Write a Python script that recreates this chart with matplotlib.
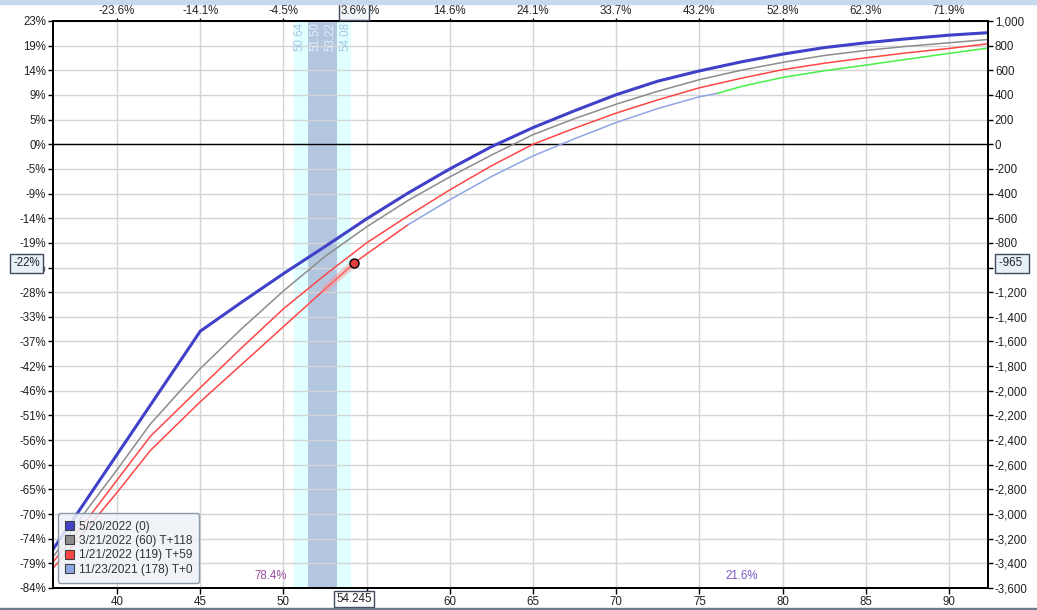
import matplotlib.pyplot as plt
from matplotlib.patches import Patch, Rectangle

plt.rcParams['font.family'] = ['Liberation Sans', 'DejaVu Sans']
plt.rcParams['font.size'] = 8.3

# underlying price grid
price = [36.15, 38, 40, 42, 45, 47.5, 50, 52.5, 55, 57.5, 60, 62.5, 65, 67.5,
         70, 72.5, 75, 77.5, 80, 82.5, 85, 87.5, 90, 92.34]
pl_0520 = [-3287, -2917, -2517, -2117, -1517, -1280, -1050, -830, -605, -395, -200, -20, 135, 272,
           402, 512, 595, 668, 731, 784, 823, 856, 885, 905]
pl_0321 = [-3350, -3000, -2640, -2270, -1820, -1495, -1190, -910, -670, -455, -265, -88, 78, 208,
           325, 430, 524, 600, 664, 720, 761, 795, 823, 850]
pl_0121 = [-3390, -3080, -2725, -2370, -1975, -1650, -1335, -1060, -800, -580, -370, -175, 0, 130,
           253, 360, 458, 535, 605, 657, 701, 742, 777, 815]

# T+0 line (today), coloured in three parts
t0_price = [36.15, 38, 40, 42, 45, 47.5, 50, 52.5, 54.245, 55, 57.5, 60, 62.5, 65, 67.5,
            70, 72.5, 75, 76.1, 77.5, 80, 82.5, 85, 87.5, 90, 92.34]
t0_pl = [-3440, -3150, -2825, -2485, -2089, -1785, -1480, -1175, -965, -890, -652, -450, -262, -95, 45,
         176, 290, 385, 413, 468, 542, 596, 642, 690, 737, 780]

legend_labels = ['5/20/2022 (0)', '3/21/2022 (60) T+118', '1/21/2022 (119) T+59', '11/23/2021 (178) T+0']
legend_colors = ['#4040c8', '#8c8c8c', '#ff4646', '#8fa6e6']

x_ticks = [40, 45, 50, 55, 60, 65, 70, 75, 80, 85, 90]
top_labels = ['-23.6%', '-14.1%', '-4.5%', '5.0%', '14.6%', '24.1%', '33.7%', '43.2%', '52.8%', '62.3%', '71.9%']
y_ticks = list(range(-3600, 1001, 200))
pct_labels = ['-84%', '-79%', '-74%', '-70%', '-65%', '-60%', '-56%', '-51%', '-46%', '-42%', '-37%', '-33%',
              '-28%', '-23%', '-19%', '-14%', '-9%', '-5%', '0%', '5%', '9%', '14%', '19%', '23%']

sd1 = (50.64, 54.08)
sd_core = (51.50, 53.22)
cursor_price = 54.245
cursor_pl = -965
prob_labels = [(49.25, '78.4%', '#9a4c9e'), (77.55, '21.6%', '#7a55c4')]

fig = plt.figure(figsize=(10.37, 6.10), dpi=100)
ax = fig.add_axes([0.0511, 0.0361, 0.9016, 0.9295])
fig.patches.append(Rectangle((0, 1 - 4 / 610), 1, 4 / 610, transform=fig.transFigure, color='#c6d9ee'))
fig.patches.append(Rectangle((0, 0), 1, 2 / 610, transform=fig.transFigure, color='#6b7a8c'))

ax.set_xlim(36.15, 92.34)
ax.set_ylim(-3600, 1000)
ax.set_axisbelow(True)
ax.grid(True, color='#d4d4d4', lw=1)

ax.axvspan(sd1[0], sd1[1], color='#e0ffff', zorder=0.2, lw=0)
ax.axvspan(sd_core[0], sd_core[1], color='#b3c6e0', zorder=0.3, lw=0)
ax.text(sd1[0] + 0.35, 990, '%.2f' % sd1[0], rotation=90, ha='center', va='top', color='#a6c6e4')
ax.text(sd_core[0] + 0.45, 990, '%.2f' % sd_core[0], rotation=90, ha='center', va='top', color='#e6edf7')
ax.text(sd_core[1] - 0.4, 990, '%.2f' % sd_core[1], rotation=90, ha='center', va='top', color='#e6edf7')
ax.text(sd1[1] - 0.35, 990, '%.2f' % sd1[1], rotation=90, ha='center', va='top', color='#a6c6e4')

ax.axhline(0, color='black', lw=1, zorder=1)

ax.plot(price, pl_0321, color=legend_colors[1], lw=1.1, zorder=3)
ax.plot(price, pl_0121, color=legend_colors[2], lw=1.1, zorder=3)
i1 = t0_price.index(57.5)
i2 = t0_price.index(76.1)
ax.plot(t0_price[:i1 + 1], t0_pl[:i1 + 1], color='#ff4646', lw=1.1, zorder=3)
ax.plot(t0_price[i1:i2 + 1], t0_pl[i1:i2 + 1], color='#8fa6e6', lw=1.1, zorder=3)
ax.plot(t0_price[i2:], t0_pl[i2:], color='#46f046', lw=1.1, zorder=3)
ic = t0_price.index(cursor_price)
ax.plot(t0_price[ic - 1:ic + 1], t0_pl[ic - 1:ic + 1], color='#ff8c8c', lw=5, alpha=0.45,
        solid_capstyle='round', zorder=3)
ax.plot(price, pl_0520, color=legend_colors[0], lw=2.2, zorder=4)
ax.plot(cursor_price, cursor_pl, 'o', ms=6.5, mfc='#e04040', mec='black', mew=1, zorder=5)

for x, s, c in prob_labels:
    ax.text(x, -3500, s, ha='center', va='center', color=c, fontsize=8.3)

for sp in ax.spines.values():
    sp.set_linewidth(1.2)
ax.set_xticks(x_ticks)
ax.set_yticks(y_ticks)
ax.set_yticklabels(pct_labels)
ax.tick_params(direction='out', length=3.5, width=1, pad=1.5, labelcolor='#222222')
ax.tick_params(axis='x', length=4, pad=2)

ax_r = ax.twinx()
ax_r.set_ylim(-3600, 1000)
ax_r.set_yticks(y_ticks)
ax_r.set_yticklabels(['{:,}'.format(v) for v in y_ticks])
ax_r.tick_params(direction='out', length=3.5, width=1, pad=1.5, labelcolor='#222222')

ax_t = ax.twiny()
ax_t.set_xlim(36.15, 92.34)
ax_t.set_xticks(x_ticks)
ax_t.set_xticklabels(top_labels)
ax_t.tick_params(direction='out', length=2, width=1, pad=1, labelcolor='#222222')
for a in (ax_r, ax_t):
    for sp in a.spines.values():
        sp.set_linewidth(1.2)

box = dict(boxstyle='square,pad=0.3', fc='#e8f0f8', ec='#404a5a', lw=1)
ax_t.text(-0.0283, cursor_pl, '-22%', transform=ax.get_yaxis_transform(), ha='center', va='center',
          bbox=box, zorder=10, color='#222222')
ax_t.text(1.0257, cursor_pl, '-965 ', transform=ax.get_yaxis_transform(), ha='center', va='center',
          bbox=box, zorder=10, color='#222222')
ax_t.text(cursor_price, -0.0194, '%.3f' % cursor_price, transform=ax.get_xaxis_transform(), ha='center',
          va='center', bbox=dict(boxstyle='square,pad=0.2', fc='white', ec='#404a5a', lw=1), zorder=10,
          color='#222222')
ax_t.text(cursor_price, 1.0168, '3.6%', transform=ax.get_xaxis_transform(), ha='center', va='center',
          bbox=dict(boxstyle='square,pad=0.2', fc='#f4f7fa', ec='#404a5a', lw=1), zorder=10,
          color='#222222')

handles = [Patch(facecolor=c, edgecolor='#404040', lw=0.8) for c in legend_colors]
leg = ax_t.legend(handles, legend_labels, loc='lower left', bbox_to_anchor=(0.005, 0.009),
                  bbox_transform=ax.transAxes, borderaxespad=0, fontsize=8.6, handlelength=0.75,
                  handleheight=0.75, handletextpad=0.4, labelspacing=0.2, borderpad=0.6,
                  fancybox=True, framealpha=0.85, facecolor='#eef3f8', edgecolor='#7a8a9a')
for t in leg.get_texts():
    t.set_color('#333333')

fig.savefig('out.png', dpi=100)
